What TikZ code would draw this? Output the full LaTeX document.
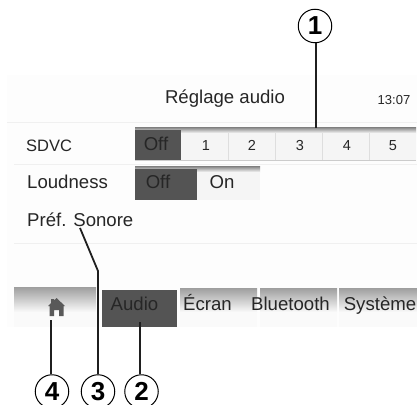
\documentclass[tikz,border=0pt]{standalone}
\usepackage{fontspec}
\setmainfont{Liberation Sans}
\usetikzlibrary{shadings}
\definecolor{darkcell}{gray}{0.33}
\definecolor{txt}{gray}{0.15}
\definecolor{sep}{gray}{0.94}
\definecolor{panel}{gray}{0.993}
\tikzset{
  x=1pt,y=-1pt,
  lab/.style={font=\fontsize{18.6}{20}\selectfont,text=txt,inner sep=0pt,anchor=base},
  digit/.style={font=\fontsize{14.5}{16}\selectfont,text=txt,inner sep=0pt,anchor=base},
  darklab/.style={lab,text=black!85},
  callout/.style={circle,draw=black,line width=1pt,fill=white,minimum size=33.5pt,inner sep=0pt,font=\fontsize{26}{28}\selectfont\bfseries},
  leader/.style={draw=black!88,line width=1.8pt},
  sepline/.style={draw=sep,line width=1pt},
  divider/.style={draw=black!13,line width=0.6pt},
  tabtop/.style={top color=black!38,bottom color=black!2},
  bartop/.style={top color=black!50,bottom color=black!4},
}
\begin{document}
\begin{tikzpicture}
\useasboundingbox (0,0) rectangle (417,404);
\fill[white] (0,0) rectangle (417,404);
\fill[panel] (7,75) rectangle (417,327);
% separators
\draw[sepline] (7,122) -- (417,122);
\draw[sepline] (14,164) -- (417,164);
\draw[sepline] (14,243) -- (417,243);
% SDVC bar
\shade[bartop] (135,127) rectangle (416,133);
\fill[black!4] (135,133) rectangle (416,160);
\fill[darkcell] (135,130) rectangle (181,160);
\foreach \xx in {228,275,322,369} \draw[divider] (\xx,133) -- (\xx,160);
\draw[black!20,line width=0.5pt] (135,160.5) -- (416,160.5);
% Loudness bar
\shade[bartop] (135,166) rectangle (260,172);
\fill[black!4] (135,172) rectangle (260,200);
\fill[darkcell] (135,169) rectangle (197,200);
% tabs
\shade[tabtop] (14,287) rectangle (96,312);
\fill[black!2] (14,312) rectangle (96,327);
\fill[darkcell] (102,290) rectangle (177,327);
\shade[tabtop] (180,288) rectangle (257,312);
\fill[black!2] (180,312) rectangle (257,327);
\shade[tabtop] (260,288) rectangle (337,312);
\fill[black!2] (260,312) rectangle (337,327);
\shade[tabtop] (339,288) rectangle (417,312);
\fill[black!2] (339,312) rectangle (417,327);
% home icon
\fill[black!65] (56.5,298) -- (65,306) -- (63.5,306) -- (63.5,316) -- (59,316) -- (59,310) -- (54,310) -- (54,316) -- (49.5,316) -- (49.5,306) -- (48,306) -- (51,303) -- (51,299) -- (54,299) -- (54,300.5) -- cycle;
% texts
\node[lab] (title) at (225,103) {Réglage audio};
\node[digit,font=\fontsize{13}{15}\selectfont] (clock) at (394,104) {13:07};
\node[lab,anchor=base west,font=\fontsize{16.5}{18}\selectfont] (sdvc) at (26,151) {SDVC};
\node[darklab] (off1) at (156,150) {Off};
\node[digit] (n1) at (206,150) {1};
\node[digit] (n2) at (252,150) {2};
\node[digit] (n3) at (300,150) {3};
\node[digit] (n4) at (347,150) {4};
\node[digit] (n5) at (393,150) {5};
\node[lab,anchor=base west] (loud) at (27,188) {Loudness};
\node[darklab] (off2) at (158,188) {Off};
\node[lab] (on) at (222,188) {On};
\node[lab,anchor=base west] (pref) at (27,226) {Préf. Sonore};
\node[darklab] (audio) at (134.5,310) {Audio};
\node[lab] (ecran) at (207.5,310) {Écran};
\node[lab] (bt) at (290.5,310) {Bluetooth};
\node[lab] (sys) at (380,310) {Système};
% anchors of the leaders
\coordinate (t1) at (316,128);
\coordinate (t2) at (140,322);
\coordinate (t3) at (80,228);
\coordinate (k3) at (98,271);
\coordinate (t4) at (51,320);
% callouts
\node[callout] (c1) at (315,26) {1};
\node[callout] (c2) at (141.5,391.5) {2};
\node[callout] (c3) at (98,391.5) {3};
\node[callout] (c4) at (52,391.5) {4};
\draw[leader] (c1.south -| t1) -- (t1);
\draw[leader] (c2.north -| t2) -- (t2);
\draw[leader] (c3.north) -- (k3) -- (t3);
\draw[leader] (c4.north -| t4) -- (t4);
\end{tikzpicture}
\end{document}
